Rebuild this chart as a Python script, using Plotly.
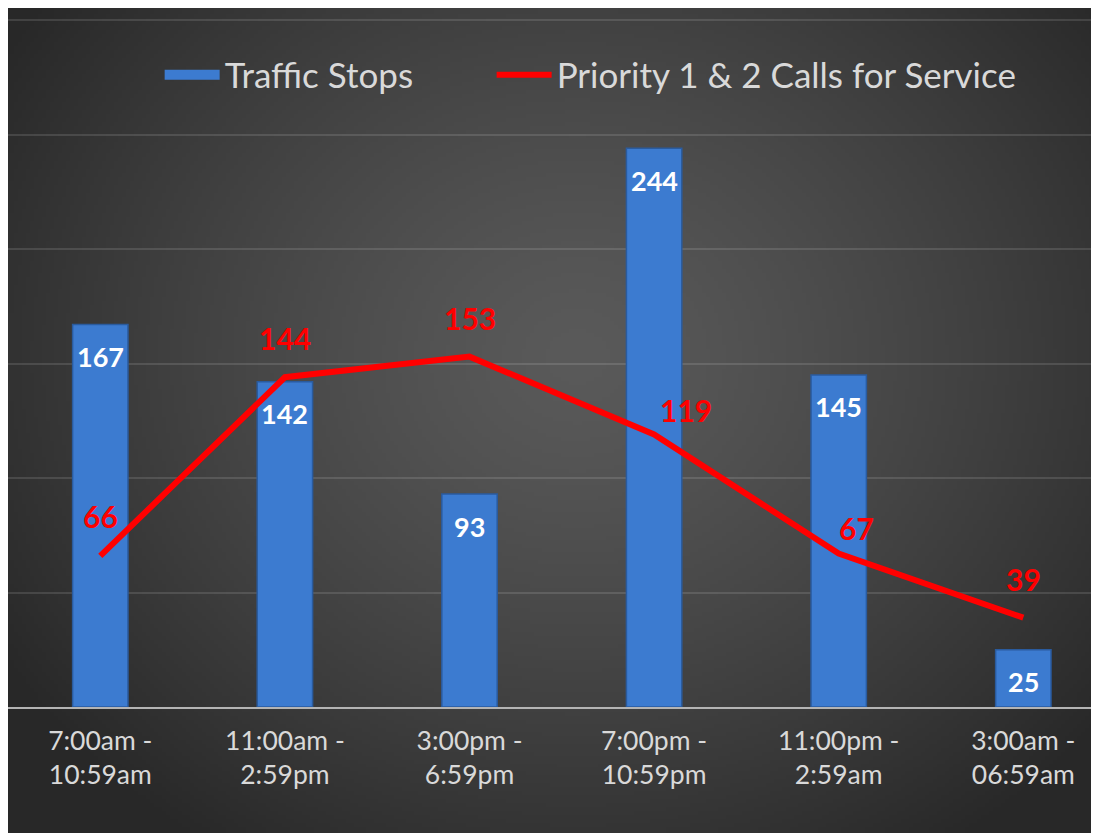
import base64
import struct
import zlib

import numpy as np
import plotly.graph_objects as go

# ---------------- data ----------------
categories = ["7:00am -<br>10:59am", "11:00am -<br>2:59pm", "3:00pm -<br>6:59pm",
              "7:00pm -<br>10:59pm", "11:00pm -<br>2:59am", "3:00am -<br>06:59am"]
traffic_stops = [167, 142, 93, 244, 145, 25]
priority_calls = [66, 144, 153, 119, 67, 39]

# label offsets (pixels) for the red line labels
line_label_dx = [0, 0, 0, 32, 18, 0]
line_label_dy = [40, 39, 39, 24, 26, 39]

# figure fits inside the page's 8px body margin
W, H = 1091, 825
ML, MR, MT, MB = 0, 0, 7, 126
plot_h = H - MT - MB
y_top = 300 * plot_h / 687.0


# ---------------- background radial gradient as a PNG data URI ----------------
def gradient_png(w, h):
    yy, xx = np.mgrid[0:h, 0:w].astype(float)
    cx, cy = w * 0.52, h * 0.42
    d = np.sqrt(((xx - cx) / (w * 0.62)) ** 2 + ((yy - cy) / (h * 0.72)) ** 2)
    d = np.clip(d, 0, 1)
    inner, outer = 90.0, 40.0
    v = inner + (outer - inner) * d ** 1.3
    v = np.clip(v, 0, 255).astype(np.uint8)
    raw = b"".join(b"\x00" + bytes(np.repeat(row, 3)) for row in v)

    def chunk(tag, data):
        c = struct.pack(">I", len(data)) + tag + data
        return c + struct.pack(">I", zlib.crc32(tag + data) & 0xFFFFFFFF)

    png = b"\x89PNG\r\n\x1a\n"
    png += chunk(b"IHDR", struct.pack(">IIBBBBB", w, h, 8, 2, 0, 0, 0))
    png += chunk(b"IDAT", zlib.compress(raw, 9))
    png += chunk(b"IEND", b"")
    return "data:image/png;base64," + base64.b64encode(png).decode()


bg_src = gradient_png(273, 207)

x_idx = list(range(len(categories)))
bar_color = "#3c7bd0"

fig = go.Figure()
# legend stand-in for the bars (wide bar-like symbol)
fig.add_trace(go.Scatter(
    x=[None], y=[None], name="Traffic Stops", mode="lines", legend="legend",
    line=dict(color=bar_color, width=16), hoverinfo="skip",
))
fig.add_trace(go.Bar(
    x=x_idx, y=traffic_stops, name="Traffic Stops", width=0.3, showlegend=False,
    marker=dict(color=bar_color, line=dict(color="#2a5b9e", width=1.5)),
    hoverinfo="y",
))
fig.add_trace(go.Scatter(
    x=x_idx, y=priority_calls, name="Priority 1 & 2 Calls for Service", legend="legend2",
    mode="lines", line=dict(color="#ff0000", width=6),
))

annotations = []
for i, v in enumerate(traffic_stops):
    annotations.append(dict(x=i, y=v, xref="x", yref="y", text=str(v), showarrow=False,
                            yshift=-32, font=dict(family="Lato", size=27, color="white",
                                                  weight="bold")))
for i, v in enumerate(priority_calls):
    annotations.append(dict(x=i, y=v, xref="x", yref="y", text=str(v), showarrow=False,
                            xshift=line_label_dx[i], yshift=line_label_dy[i],
                            font=dict(family="Lato", size=30, color="#ff0000",
                                      weight="bold")))

legend_style = dict(orientation="h", xanchor="left",
                    y=(H - MB - 67) / plot_h, yanchor="middle",
                    font=dict(family="Lato", size=35, color="#d9d9d9"),
                    bgcolor="rgba(0,0,0,0)", itemwidth=55)

fig.update_layout(
    width=W, height=H,
    margin=dict(l=ML, r=MR, t=MT, b=MB, pad=0),
    paper_bgcolor="#2e2e2e",
    plot_bgcolor="rgba(0,0,0,0)",
    images=[dict(source=bg_src, xref="paper", yref="paper", x=0,
                 y=1 + MT / plot_h, sizex=1,
                 sizey=H / plot_h, xanchor="left", yanchor="top",
                 sizing="stretch", layer="below")],
    showlegend=True,
    legend=dict(x=0.139, **legend_style),
    legend2=dict(x=0.4433, **legend_style),
    xaxis=dict(range=[-0.5, 5.41], tickmode="array", tickvals=x_idx, ticktext=categories,
               showgrid=False, zeroline=False, showline=True, linecolor="#b4b4b4",
               linewidth=2, ticks="", ticklabelstandoff=9,
               tickfont=dict(family="Lato", size=26.5, color="#d9d9d9")),
    yaxis=dict(range=[0, y_top], tickmode="array", tickvals=[50, 100, 150, 200, 250, 300],
               showgrid=True, gridcolor="rgba(255,255,255,0.12)",
               gridwidth=1.5, zeroline=False, showticklabels=False, ticks=""),
    annotations=annotations,
    bargap=0.7,
)

fig.write_html("out.html")
